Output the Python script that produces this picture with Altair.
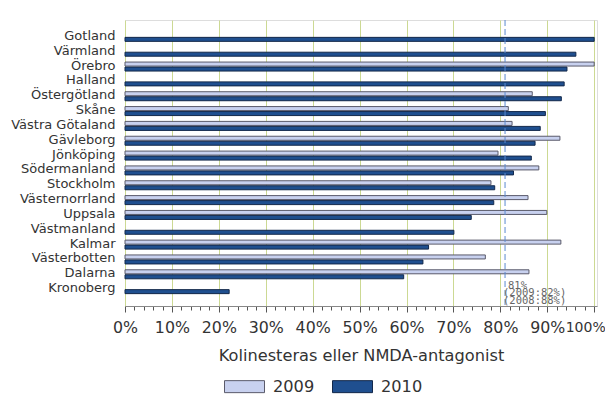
import altair as alt
import pandas as pd

regions = ["Gotland", "Värmland", "Örebro", "Halland", "Östergötland", "Skåne",
           "Västra Götaland", "Gävleborg", "Jönköping", "Södermanland", "Stockholm",
           "Västernorrland", "Uppsala", "Västmanland", "Kalmar", "Västerbotten",
           "Dalarna", "Kronoberg"]
v2009 = [None, None, 100.0, None, 86.8, 81.7, 82.5, 92.7, 79.5, 88.2, 78.0,
         85.9, 89.9, None, 92.9, 76.8, 86.1, None]
v2010 = [100.0, 96.1, 94.2, 93.6, 93.0, 89.6, 88.5, 87.4, 86.6, 82.8, 78.8,
         78.6, 73.8, 70.1, 64.7, 63.5, 59.4, 22.2]
years = ["2009", "2010"]
colors = ["#c8d1ef", "#1f4f8f"]
target = [81]
ann_lines = ["81%", "(2009:82%)", "(2008:88%)"]

rows = []
for r, a, b in zip(regions, v2009, v2010):
    if a is not None:
        rows.append({"region": r, "year": "2009", "value": a})
    if b is not None:
        rows.append({"region": r, "year": "2010", "value": b})
df = pd.DataFrame(rows)

xscale = alt.Scale(domain=[0, 100.6], nice=False, zero=True)
is100 = "datum.value === 100"

bars = alt.Chart(df).mark_bar(strokeWidth=1).encode(
    y=alt.Y("region:N", sort=regions,
            scale=alt.Scale(paddingInner=0.326, paddingOuter=0.8),
            axis=alt.Axis(title=None, ticks=False, tickSize=0, domain=False,
                          labelPadding=10, labelFontSize=13, labelColor="#333333",
                          labelFont="DejaVu Sans", labelOffset=-1)),
    yOffset=alt.YOffset("year:N", sort=years,
                        scale=alt.Scale(paddingInner=0.2, paddingOuter=0.1)),
    x=alt.X("value:Q", scale=xscale,
            axis=alt.Axis(title="Kolinesteras eller NMDA-antagonist",
                          values=list(range(0, 101, 2)), tickCount=200,
                          labelExpr="datum.value % 10 === 0 ? datum.value + '%' : ''",
                          labelOverlap=False, labelFlush=False, labelBound=False,
                          labelAlign={"condition": {"test": is100, "value": "right"}, "value": "center"},
                          labelOffset={"condition": {"test": is100, "value": 11}, "value": 0},
                          labelFontSize={"condition": {"test": is100, "value": 14}, "value": 15.8},
                          tickSize={"condition": {"test": "datum.value % 10 === 0", "value": 6}, "value": 4},
                          gridOpacity={"condition": {"test": "datum.value % 10 === 0", "value": 1}, "value": 0},
                          grid=True, gridColor="#ccd993", gridWidth=1,
                          tickColor="#555555", domainColor="#888888",
                          labelColor="#333333", labelPadding=8,
                          labelFont="DejaVu Sans",
                          titleFontSize=16.2, titleFontWeight="normal", titleColor="#333333",
                          titleFont="DejaVu Sans", titlePadding=13)),
    color=alt.Color("year:N", scale=alt.Scale(domain=years, range=colors),
                    legend=alt.Legend(title=None, orient="none", direction="horizontal",
                                      legendX=99, legendY=346,
                                      symbolType="M-1,-0.3H1V0.3H-1Z", symbolSize=1600,
                                      symbolStrokeColor="#444444", symbolStrokeWidth=1,
                                      labelFontSize=16.2, labelFont="DejaVu Sans",
                                      labelColor="#333333", labelOffset=8,
                                      columnPadding=15, padding=0)),
    stroke=alt.Stroke("year:N", scale=alt.Scale(domain=years, range=["#5a5a6a", "#13284a"]),
                      legend=None),
)

tdf = pd.DataFrame({"value": target})
rule = alt.Chart(tdf).mark_rule(color="#5a8ad0", strokeDash=[6, 3], strokeWidth=1).encode(
    x=alt.X("value:Q", scale=xscale)
)

t1 = alt.Chart(tdf).mark_text(align="left", baseline="middle", dx=3, font="DejaVu Sans Mono",
                              fontSize=10.5, color="#666666", text=ann_lines[0]).encode(
    x=alt.X("value:Q", scale=xscale), y=alt.value(265.5))
t2 = alt.Chart(tdf).mark_text(align="left", baseline="middle", dx=-2, font="DejaVu Sans Mono",
                              fontSize=10.5, color="#666666", text=ann_lines[1]).encode(
    x=alt.X("value:Q", scale=xscale), y=alt.value(273))
t3 = alt.Chart(tdf).mark_text(align="left", baseline="middle", dx=-2, font="DejaVu Sans Mono",
                              fontSize=10.5, color="#666666", text=ann_lines[2]).encode(
    x=alt.X("value:Q", scale=xscale), y=alt.value(280.5))

chart = alt.layer(bars, rule, t1, t2, t3).properties(
    width=472, height=286,
    autosize=alt.AutoSizeParams(type="none"),
    padding={"left": 117, "top": 12, "right": 8, "bottom": 96},
).configure_view(stroke="#888888", strokeWidth=1.5).configure(background="white")

chart.save("out.html", embed_options={"renderer": "svg", "actions": False})
